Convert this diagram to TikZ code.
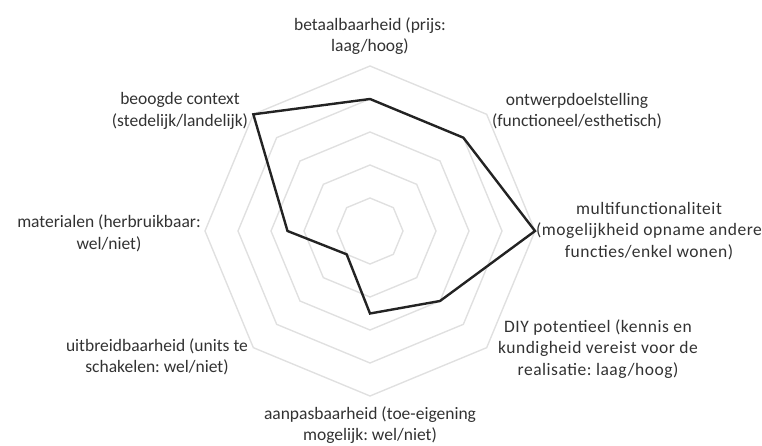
\documentclass[tikz,border=0pt]{standalone}
\usepackage{fontspec}
\setmainfont{Carlito}
\newfontfamily\widefont[LetterSpace=3]{Carlito}
\frenchspacing
\definecolor{gridgray}{RGB}{224,224,224}
\definecolor{profilegray}{RGB}{35,35,35}
\definecolor{labelgray}{RGB}{50,50,50}
\begin{document}
\begin{tikzpicture}[x=1pt,y=1pt,
    ring/.style={draw=gridgray, line width=1.4pt},
    profile/.style={draw=profilegray, line width=2.4pt, line join=miter},
    axislabel/.style={align=center, text=labelgray, inner sep=0pt,
      font=\fontsize{17.5}{21.5}\selectfont},
    widelabel/.style={axislabel, font=\widefont\fontsize{17.5}{21.5}\selectfont}]
  \useasboundingbox (0,0) rectangle (762,446);
  \begin{scope}[shift={(370,215)}]
    % grid rings
    \foreach \r in {33,66,99,132,165}
      \draw[ring] (0:\r) -- (45:\r) -- (90:\r) -- (135:\r) -- (180:\r)
        -- (225:\r) -- (270:\r) -- (315:\r) -- cycle;
    % profile
    \path
      (90:132) coordinate (1)
      (45:132) coordinate (2)
      (0:165) coordinate (3)
      (315:99) coordinate (4)
      (270:82.5) coordinate (5)
      (225:33) coordinate (6)
      (180:82.5) coordinate (7)
      (135:165) coordinate (8);
    \draw[profile] (1) -- (2) -- (3) -- (4) -- (5) -- (6) -- (7) -- (8) -- cycle;
    % labels
    \node[axislabel] (betaal) at (0,195) {betaalbaarheid (prijs:\\laag/hoog)};
    \node[axislabel] (ontwerp) at (207,120) {ontwerpdoelstelling\\(functioneel/esthetisch)};
    \node[widelabel] (multi) at (279,0) {multifunctionaliteit\\(mogelijkheid opname andere\\functies/enkel wonen)};
    \node[widelabel] (diy) at (228,-118) {DIY potentieel (kennis en\\kundigheid vereist voor de\\realisatie: laag/hoog)};
    \node[axislabel] (aanpas) at (0,-194) {aanpasbaarheid (toe-eigening\\mogelijk: wel/niet)};
    \node[axislabel] (uitbreid) at (-213,-126) {uitbreidbaarheid (units te\\schakelen: wel/niet)};
    \node[axislabel] (materiaal) at (-261,-2.5) {materialen (herbruikbaar:\\wel/niet)};
    \node[axislabel] (context) at (-190,120) {beoogde context\\(stedelijk/landelijk)};
  \end{scope}
\end{tikzpicture}
\end{document}
